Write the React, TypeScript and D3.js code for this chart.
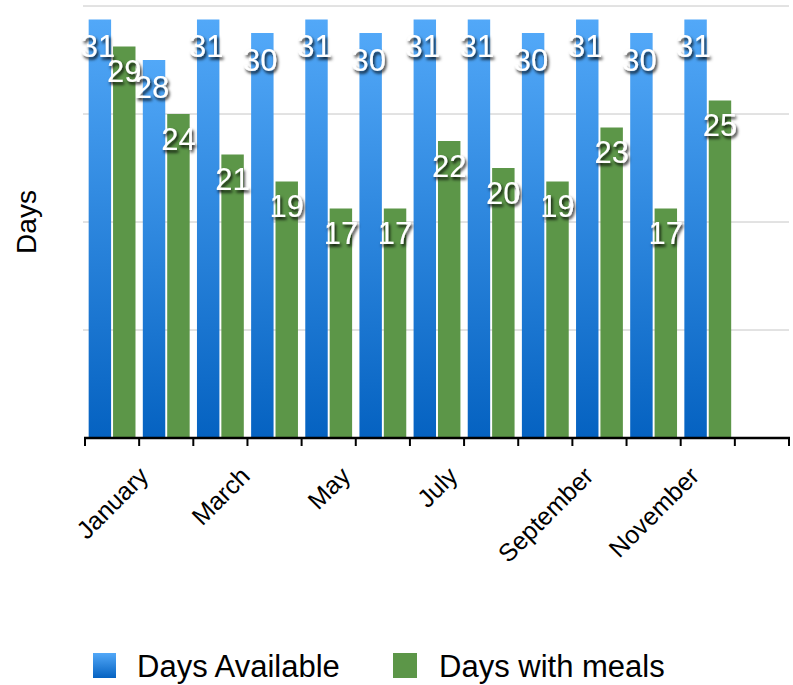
import React from "react";
import * as d3 from "d3";

const months = ["January","February","March","April","May","June","July","August","September","October","November","December",""];
const daysAvailable = [31,28,31,30,31,30,31,31,30,31,30,31];
const daysWithMeals = [29,24,21,19,17,17,22,20,19,23,17,25];
const shownLabels = ["January","March","May","July","September","November"];
const yGridTicks = [8,16,24,32];
const seriesNames = ["Days Available","Days with meals"];

const W = 793, H = 685;
const FONT = "'Liberation Sans', Arial, Helvetica, sans-serif";

function measure(text: string, size: number) {
  const c = document.createElement("canvas");
  const ctx = c.getContext("2d")!;
  ctx.font = `${size}px ${FONT}`;
  return ctx.measureText(text).width;
}

export default function App() {
  const x = d3.scaleBand<string>().domain(months).range([85, 789]).padding(0);
  const sub = d3.scaleBand<string>().domain(["a","m"]).range([0, x.bandwidth()]).paddingInner(0.08).paddingOuter(0.15);
  const y = d3.scaleLinear().domain([0, 32]).range([438, 6]);
  const data = daysAvailable.map((v, i) => ({ m: months[i], a: v, g: daysWithMeals[i] }));
  const tickXs = months.map(m => x(m)!).concat([x.range()[1]]);
  const labelSize = 25;

  return (
    <svg width={W} height={H} style={{ position: "absolute", left: 0, top: 0, background: "#fff" }} fontFamily={FONT}>
      <defs>
        <linearGradient id="blueGrad" x1="0" y1="0" x2="0" y2="1">
          <stop offset="0" stopColor="#52A8F8" />
          <stop offset="1" stopColor="#0562C1" />
        </linearGradient>
        <filter id="shadow" x="-30%" y="-30%" width="160%" height="160%">
          <feDropShadow dx="1.5" dy="2.5" stdDeviation="1.8" floodColor="#000" floodOpacity="0.9" />
        </filter>
      </defs>
      {yGridTicks.map(t => (
        <line key={t} x1={83} x2={789} y1={y(t)} y2={y(t)} stroke="#c6c6c6" strokeWidth={1} />
      ))}
      {data.map(d => (
        <g key={d.m} transform={`translate(${x(d.m)},0)`}>
          <rect x={sub("a")} y={y(d.a)} width={sub.bandwidth()} height={y(0) - y(d.a)} fill="url(#blueGrad)" />
          <rect x={sub("m")} y={y(d.g)} width={sub.bandwidth()} height={y(0) - y(d.g)} fill="#5C9648" />
        </g>
      ))}
      {data.map(d => (
        <g key={"l" + d.m} transform={`translate(${x(d.m)},0)`} filter="url(#shadow)">
          <text x={sub("a")! + sub.bandwidth() / 2 - 2} y={y(d.a) + 27} textAnchor="middle" dominantBaseline="central" fill="#fff" fontSize={31}>{d.a}</text>
          <text x={sub("m")! + sub.bandwidth() / 2} y={y(d.g) + 25} textAnchor="middle" dominantBaseline="central" fill="#fff" fontSize={31}>{d.g}</text>
        </g>
      ))}
      <line x1={84} x2={790} y1={y(0)} y2={y(0)} stroke="#000" strokeWidth={2.5} />
      {tickXs.map((tx, i) => (
        <line key={i} x1={tx} x2={tx} y1={y(0)} y2={y(0) + 8} stroke="#000" strokeWidth={2} />
      ))}
      {shownLabels.map(m => {
        const L = measure(m, labelSize);
        const bb = 0.707 * (L + 0.93 * labelSize);
        const cx = x(m)! + x.bandwidth() / 2;
        const cy = 463 + bb / 2;
        return (
          <text key={m} transform={`translate(${cx},${cy}) rotate(-45)`} textAnchor="middle" dominantBaseline="central" fontSize={labelSize} fill="#000">{m}</text>
        );
      })}
      <text transform={`translate(36,222) rotate(-90)`} textAnchor="middle" fontSize={28} fill="#000">Days</text>
      <rect x={93} y={653} width={23} height={25} fill="url(#blueGrad)" />
      <text x={137} y={677} fontSize={31} fill="#000">{seriesNames[0]}</text>
      <rect x={393} y={653} width={24} height={25} fill="#5C9648" />
      <text x={439} y={677} fontSize={31} fill="#000">{seriesNames[1]}</text>
    </svg>
  );
}
